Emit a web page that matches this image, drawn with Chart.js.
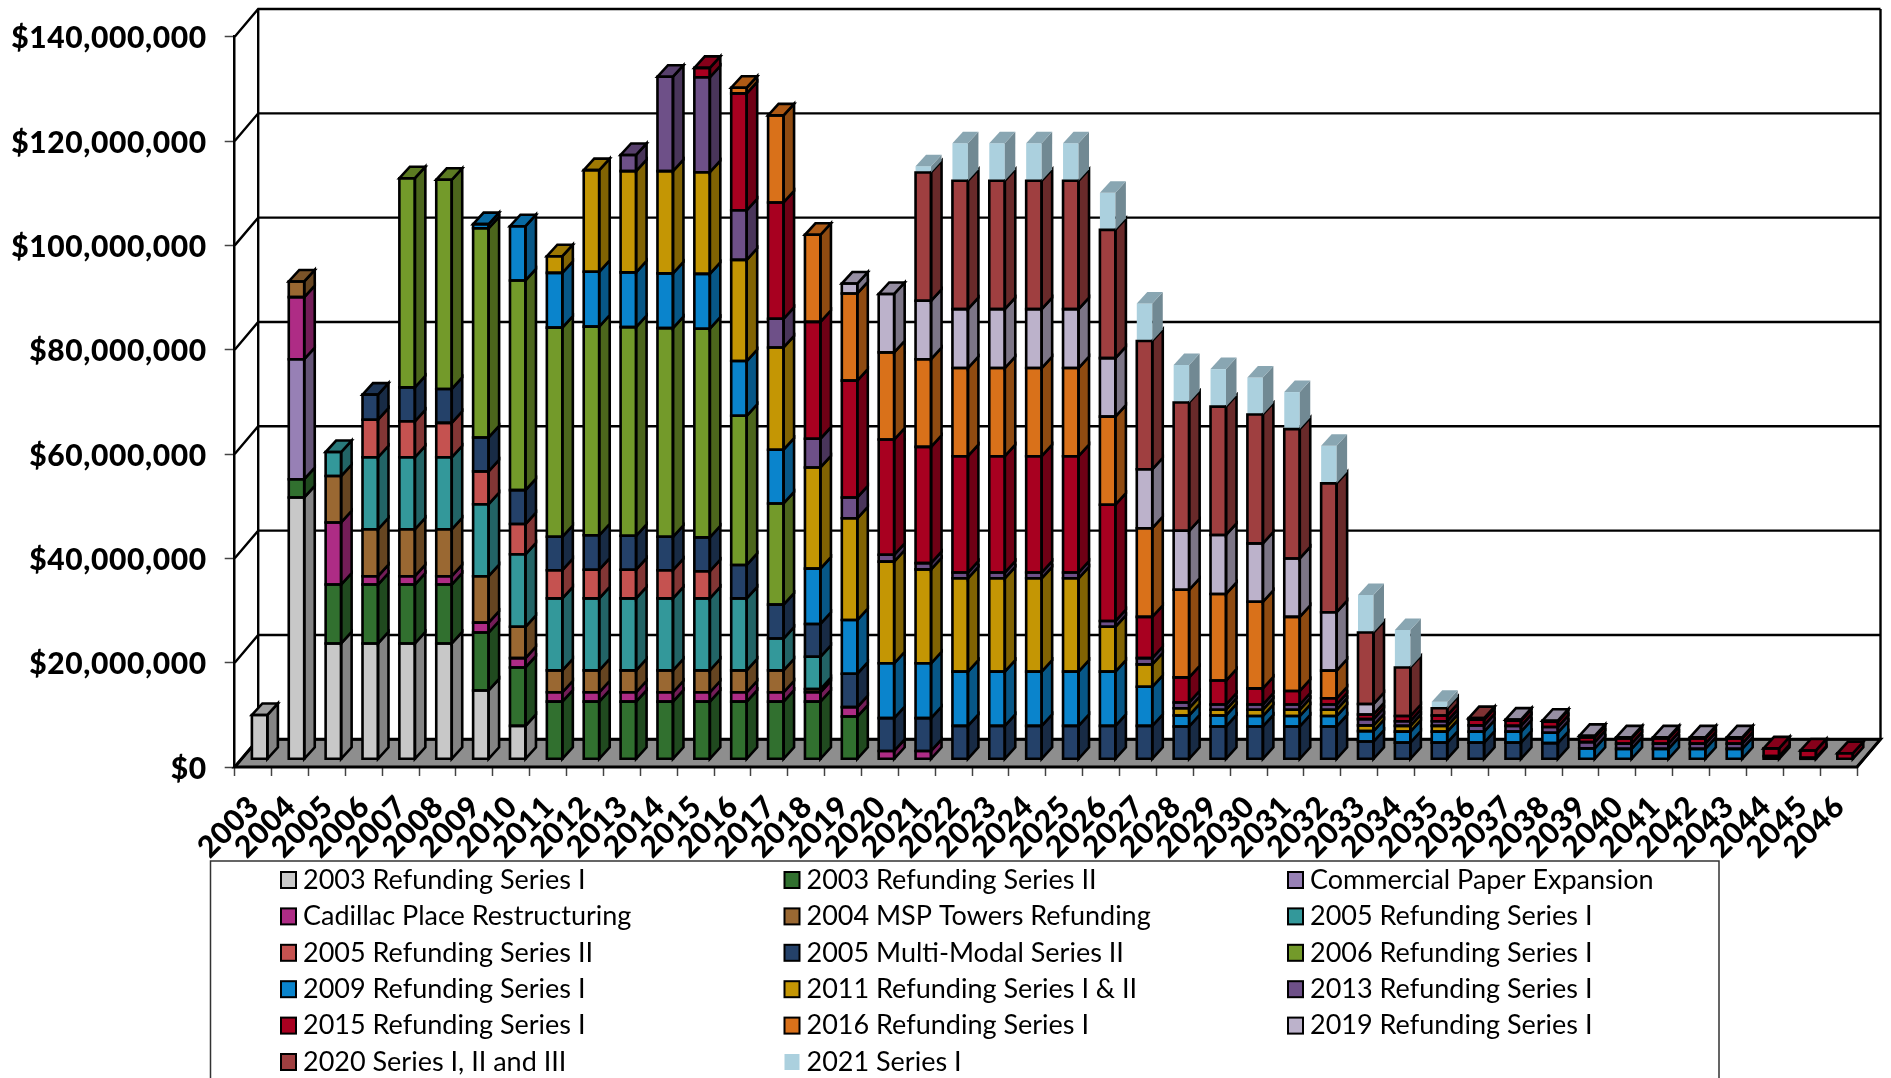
<!DOCTYPE html>
<html><head><meta charset="utf-8">
<style>html,body{margin:0;padding:0;background:#fff;overflow:hidden}canvas{display:block}</style>
<script src="https://cdn.jsdelivr.net/npm/chart.js@4"></script>
</head><body><canvas id="c" width="1891" height="1078"></canvas>
<script>
const years=[2003,2004,2005,2006,2007,2008,2009,2010,2011,2012,2013,2014,2015,2016,2017,2018,2019,2020,2021,2022,2023,2024,2025,2026,2027,2028,2029,2030,2031,2032,2033,2034,2035,2036,2037,2038,2039,2040,2041,2042,2043,2044,2045,2046].map(String);
const yTicks=[0,20,40,60,80,100,120,140];
const seriesNames=["2003 Refunding Series I","2003 Refunding Series II","Commercial Paper Expansion","Cadillac Place Restructuring","2004 MSP Towers Refunding","2005 Refunding Series I","2005 Refunding Series II","2005 Multi-Modal Series II","2006 Refunding Series I","2009 Refunding Series I","2011 Refunding Series I & II","2013 Refunding Series I","2015 Refunding Series I","2016 Refunding Series I","2019 Refunding Series I","2020 Series I, II and III","2021 Series I"];
const seriesColors=["#C8C8C8","#31702F","#9780B5","#AE2C85","#9A6832","#33989A","#C55250","#244169","#739A2A","#0A84CC","#C49604","#6E5088","#A80020","#D9711A","#BCB2CB","#9F3F40","#ABD0DE"];
// values in $ millions, 2003..2046
const s2003I=[8.5,50.2,22.2,22.2,22.2,22.2,13.2,6.4,0,0, 0,0,0,0,0,0,0,0,0,0, 0,0,0,0,0,0,0,0,0,0, 0,0,0,0,0,0,0,0,0,0, 0,0,0,0];
const s2003II=[0,3.5,11.3,11.3,11.3,11.3,11.1,11.2,11.05,11.05, 11.05,11.05,11.05,11.05,11.05,11.05,8.2,0,0,0, 0,0,0,0,0,0,0,0,0,0, 0,0,0,0,0,0,0,0,0,0, 0,0,0,0];
const sCP=[0,23,0,0,0,0,0,0,0,0, 0,0,0,0,0,0,0,0,0,0, 0,0,0,0,0,0,0,0,0,0, 0,0,0,0,0,0,0,0,0,0, 0,0,0,0];
const sCadillac=[0,11.9,11.9,1.6,1.6,1.6,1.9,1.8,1.8,1.8, 1.8,1.8,1.8,1.8,1.8,1.8,1.8,1.6,1.6,0, 0,0,0,0,0,0,0,0,0,0, 0,0,0,0,0,0,0,0,0,0, 0,0,0,0];
const sMSP=[0,3,8.9,9,9,9,8.9,6,4.2,4.2, 4.2,4.2,4.2,4.2,4.2,0.6,0,0,0,0, 0,0,0,0,0,0,0,0,0,0, 0,0,0,0,0,0,0,0,0,0, 0,0,0,0];
const s2005I=[0,0,4.6,13.8,13.8,13.8,13.8,13.9,13.8,13.8, 13.8,13.8,13.8,13.8,6.1,6.2,0,0,0,0, 0,0,0,0,0,0,0,0,0,0, 0,0,0,0,0,0,0,0,0,0, 0,0,0,0];
const s2005II=[0,0,0,7.2,6.9,6.6,6.3,5.8,5.4,5.5, 5.5,5.4,5.2,0,0,0,0,0,0,0, 0,0,0,0,0,0,0,0,0,0, 0,0,0,0,0,0,0,0,0,0, 0,0,0,0];
const sMultiModal=[0,0,0,4.8,6.5,6.5,6.5,6.5,6.4,6.6, 6.5,6.4,6.5,6.4,6.5,6.3,6.4,6.3,6.3,6.4, 6.4,6.4,6.4,6.4,6.4,6.3,6.3,6.3,6.3,6.3, 3.4,3.2,3.2,3.2,3.2,3.1,0,0,0,0, 0,0,0,0];
const s2006=[0,0,0,0,40.1,40.1,40.1,40.2,40.1,40, 40,40,40,28.6,19.4,0,0,0,0,0, 0,0,0,0,0,0,0,0,0,0, 0,0,0,0,0,0,0,0,0,0, 0,0,0,0];
const s2009=[0,0,0,0,0,0,0.8,10.4,10.5,10.5, 10.5,10.5,10.5,10.5,10.3,10.6,10.3,10.5,10.5,10.4, 10.4,10.4,10.4,10.4,7.5,2.1,2.1,2,2,2, 2,2.1,2.1,2.1,2.1,2,2.1,2,2,2, 2,0,0,0];
const s2011=[0,0,0,0,0,0,0,0,3.2,19.5, 19.4,19.6,19.5,19.4,19.6,19.4,19.5,19.5,18,17.9, 17.9,17.9,17.9,8.6,4.3,1.4,1.1,1.2,1.2,1.2, 1.1,1.1,1.1,0,0,0,0,0,0,0, 0,0,0,0];
const s2013=[0,0,0,0,0,0,0,0,0,0, 3.1,18.1,18.2,9.5,5.5,5.5,4,1.3,1.2,1.1, 1.1,1.1,1.1,1.1,1.2,1.1,1,1,1,1, 1.2,0.9,0.9,1.2,1.1,1.1,1.2,1,1,1, 1,0.6,0.3,0];
const s2015=[0,0,0,0,0,0,0,0,0,0, 0,0,1.8,22.4,22.3,22.4,22.4,22.1,22.3,22.3, 22.3,22.3,22.3,22.3,7.9,4.8,4.6,3.1,2.6,1.2, 0.9,1,1.1,1.1,1,1,0.9,1,1,1, 1,1.5,1.4,1.15];
const s2016=[0,0,0,0,0,0,0,0,0,0, 0,0,0,1.1,16.7,16.7,16.7,16.7,16.8,16.9, 16.9,16.9,16.9,16.9,17,16.8,16.6,16.6,14.2,5.3, 0,0,0,0,0,0,0,0,0,0, 0,0,0,0];
const s2019=[0,0,0,0,0,0,0,0,0,0, 0,0,0,0,0,0,1.9,11.2,11.2,11.3, 11.3,11.3,11.3,11.2,11.3,11.3,11.3,11.2,11.2,11.2, 2,0,0,0,0.2,0.2,0.3,0.2,0.2,0.2, 0.2,0,0,0];
const s2020=[0,0,0,0,0,0,0,0,0,0, 0,0,0,0,0,0,0,0,24.6,24.6, 24.6,24.6,24.6,24.6,24.6,24.6,24.6,24.7,24.8,24.7, 13.7,9.3,1.4,0.3,0,0,0,0,0,0, 0,0,0,0];
const s2021=[0,0,0,0,0,0,0,0,0,0, 0,0,0,0,0,0,0,0,1.2,7.2, 7.2,7.2,7.2,7.1,7.2,7.2,7.2,7.1,7.1,7.2, 7.2,7.2,1.25,0,0,0,0,0,0,0, 0,0,0,0];
const seriesValues=[s2003I,s2003II,sCP,sCadillac,sMSP,s2005I,s2005II,sMultiModal,s2006,s2009,s2011,s2013,s2015,s2016,s2019,s2020,s2021];

const FONT='Lato';
const AREA={left:234.7,right:1857,top:36.7,bottom:767};
const WALL={dx:23.5,dy:27.7};      // axis front plane -> back wall
const BARSHIFT={dx:6.5,dy:7.7};    // axis front plane -> bar front plane
const BAR3D={dx:10.5,dy:11.5};

function shade(hex,f){const n=parseInt(hex.slice(1),16);
  return `rgb(${Math.round((n>>16&255)*f)},${Math.round((n>>8&255)*f)},${Math.round((n&255)*f)})`;}
function poly(ctx,pts,fill,stroke,lw){ctx.beginPath();pts.forEach((p,i)=>i?ctx.lineTo(p[0],p[1]):ctx.moveTo(p[0],p[1]));ctx.closePath();
  if(fill){ctx.fillStyle=fill;ctx.fill();}
  if(stroke){ctx.strokeStyle=stroke;ctx.lineWidth=lw;ctx.lineJoin='miter';ctx.stroke();}}

const wallsPlugin={id:'walls',
  beforeDraw(chart){chart.ctx.letterSpacing='0.6px';},
  beforeDatasetsDraw(chart){
    const {ctx,scales:{x,y}}=chart;const L=x.left,R=x.right,dx=WALL.dx,dy=WALL.dy;
    ctx.save();
    const y0=y.getPixelForValue(0);
    poly(ctx,[[L,y0],[R,y0],[R+dx,y0-dy],[L+dx,y0-dy]],'#8E8E8E','#000',3);
    ctx.strokeStyle='#000';ctx.lineWidth=2.4;
    yTicks.forEach(v=>{const p=y.getPixelForValue(v);
      ctx.beginPath();ctx.moveTo(L,p);ctx.lineTo(L+dx,p-dy);
      ctx.lineTo(R+dx,p-dy);ctx.stroke();});
    const top=y.getPixelForValue(140);
    ctx.beginPath();ctx.moveTo(L+dx,top-dy);ctx.lineTo(L+dx,y0-dy);ctx.stroke();
    ctx.beginPath();ctx.moveTo(R+dx,top-dy);ctx.lineTo(R+dx,y0-dy);ctx.stroke();
    ctx.beginPath();ctx.moveTo(R,y0);ctx.lineTo(R+dx,y0-dy);ctx.stroke();
    ctx.restore();
    ctx.save();ctx.translate(BARSHIFT.dx,-BARSHIFT.dy);
  },
  afterDatasetsDraw(chart){
    const ctx=chart.ctx,dx=BAR3D.dx,dy=BAR3D.dy;
    const n=chart.data.labels.length,m=chart.data.datasets.length;
    for(let i=0;i<n;i++){
      let topD=-1;
      for(let d=0;d<m;d++) if(chart.data.datasets[d].data[i]>0) topD=d;
      for(let d=0;d<m;d++){
        const ds=chart.data.datasets[d];
        if(!(ds.data[i]>0)) continue;
        const el=chart.getDatasetMeta(d).data[i];
        const l=el.x-el.width/2,r=el.x+el.width/2,t=el.y,b=el.base;
        const edge=ds.edgeColor,lw=2.6;
        poly(ctx,[[r,t],[r+dx,t-dy],[r+dx,b-dy],[r,b]],shade(ds.backgroundColor,0.66),edge,lw);
        if(d===topD) poly(ctx,[[l,t],[r,t],[r+dx,t-dy],[l+dx,t-dy]],shade(ds.backgroundColor,0.8),edge,lw);
        if(edge) poly(ctx,[[l,t],[r,t],[r,b],[l,b]],null,edge,lw);
      }
    }
    ctx.restore();
  }
};

const legendPlugin={id:'boxLegend',
  afterDraw(chart){
    const ctx=chart.ctx;ctx.save();
    ctx.letterSpacing='0px';
    ctx.strokeStyle='#333';ctx.lineWidth=1.5;
    ctx.beginPath();ctx.moveTo(210.5,1080);ctx.lineTo(210.5,861);ctx.lineTo(1719,861);ctx.lineTo(1719,1080);ctx.stroke();
    ctx.font=`27px ${FONT}`;ctx.textBaseline='middle';ctx.textAlign='left';
    chart.data.datasets.forEach((ds,i)=>{
      const col=i%3,row=Math.floor(i/3);
      const X=281+col*503.5,Y=880+row*36.4;
      ctx.fillStyle=ds.backgroundColor;ctx.fillRect(X,Y-8,15,16);
      if(ds.edgeColor){ctx.strokeStyle=ds.edgeColor;ctx.lineWidth=2;ctx.strokeRect(X,Y-8,15,16);}
      ctx.fillStyle='#000';ctx.fillText(ds.label,X+22,Y);
    });
    ctx.restore();
  }
};

new Chart(document.getElementById('c'),{
  type:'bar',
  data:{labels:years,datasets:seriesValues.map((vals,i)=>({
    label:seriesNames[i],data:vals,backgroundColor:seriesColors[i],borderWidth:0,
    edgeColor:i===16?null:'#000',clip:false,
    barPercentage:0.42,categoryPercentage:1
  }))},
  options:{
    responsive:false,animation:false,devicePixelRatio:1,
    layout:{padding:{left:0,right:1891-AREA.right,top:AREA.top,bottom:0}},
    plugins:{legend:{display:false},tooltip:{enabled:false},title:{display:false}},
    scales:{
      x:{stacked:true,
        afterFit:s=>{s.height=1078-AREA.bottom;},
        grid:{display:true,drawOnChartArea:false,drawTicks:true,tickLength:9,tickColor:'#444',tickWidth:1.5,offset:true},
        border:{display:false},
        ticks:{color:'#000',font:{family:FONT,weight:'900',size:30},minRotation:45,maxRotation:45,autoSkip:false,padding:13,labelOffset:1}
      },
      y:{stacked:true,min:0,max:140,
        afterFit:s=>{s.width=AREA.left;},
        grid:{display:true,drawOnChartArea:false,drawTicks:true,tickLength:10,tickColor:'#444',tickWidth:1.5},
        border:{display:true,color:'#000',width:2.5},
        afterBuildTicks:s=>{s.ticks=yTicks.map(v=>({value:v}));},
        ticks:{color:'#000',font:{family:FONT,weight:'900',size:30},padding:18,labelOffset:2,
          callback:v=>v===0?'$0':'$'+v+',000,000'}
      }
    }
  },
  plugins:[wallsPlugin,legendPlugin]
});
</script></body></html>
